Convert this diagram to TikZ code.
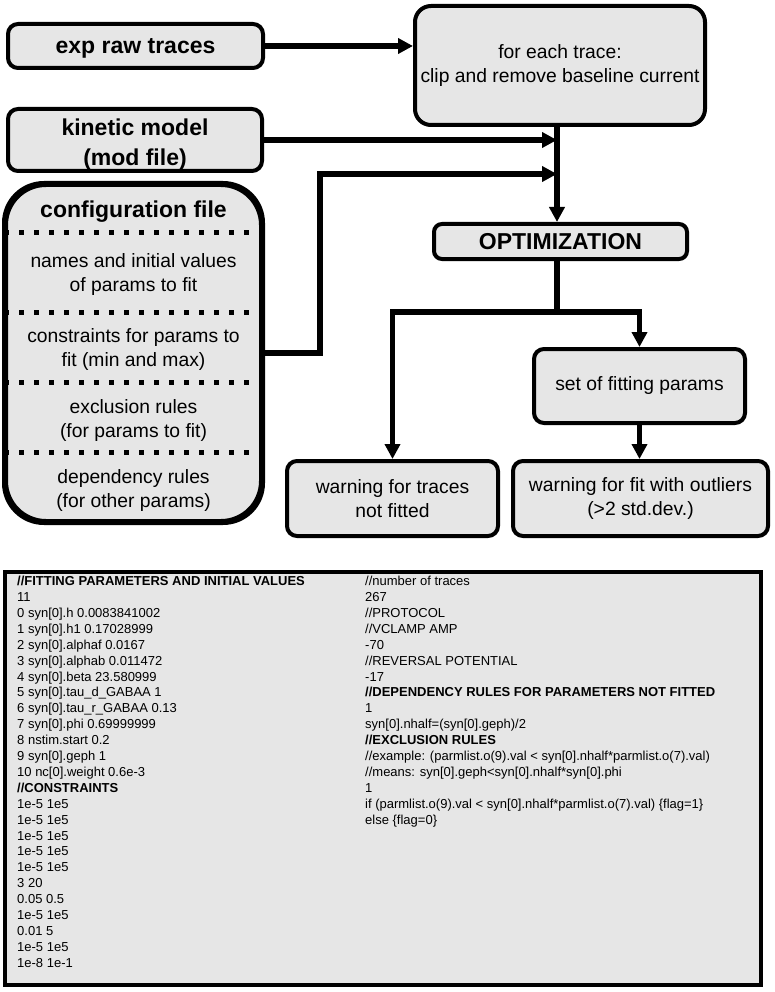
\documentclass[tikz,border=0pt]{standalone}
\usepackage{fontspec}
\setmainfont{Liberation Sans}
\usetikzlibrary{arrows.meta,calc}
\definecolor{boxgray}{RGB}{230,230,230}
\begin{document}
\begin{tikzpicture}[x=1pt,y=-1pt,
  box/.style={draw=black, line width=4pt, fill=boxgray, rounded corners=10pt, align=center, inner sep=0pt},
  big/.style={font=\fontsize{23}{30}\selectfont\bfseries, align=center},
  reg/.style={font=\fontsize{19.3}{24}\selectfont, align=center},
  conn/.style={line width=5.5pt, line join=miter, -{Triangle[length=15pt,width=15pt]}},
  plain/.style={line width=5.5pt, line join=miter},
  dots/.style={line width=5pt, dash pattern=on 5pt off 10pt},
  code/.style={font=\fontsize{13}{15.9}\selectfont, align=left, anchor=north west, inner sep=0pt}
]
\useasboundingbox (0,0) rectangle (774,992);

% top boxes
\node[box, minimum width=255pt, minimum height=44pt] (raw) at (135.5,46) {};
\node[big] (rawt) at (135.5,48) {exp raw traces};
\node[box, reg, rounded corners=16pt, minimum width=290pt, minimum height=119pt] (clip) at (560,65.5) {for each trace:\\clip and remove baseline current};
\node[box, minimum width=254pt, minimum height=62pt] (kin) at (135,140) {};
\node[big] (kint) at (135,145) {kinetic model\\(mod file)};

% configuration file
\node[box, rounded corners=40pt, minimum width=255pt, minimum height=336pt] (cfg) at (133.5,353) {};
\node[big] (cfgt) at (133.5,212) {configuration file};
\node[reg] (cfg1) at (133.5,275) {names and initial values\\of params to fit};
\node[reg] (cfg2) at (133.5,349.5) {constraints for params to\\fit (min and max)};
\node[reg] (cfg3) at (133.5,421) {exclusion rules\\(for params to fit)};
\node[reg] (cfg4) at (133.5,490.5) {dependency rules\\(for other params)};
\foreach \yy in {233,312,382,452}
  \draw[dots] (cfg.west |- 0,\yy) -- (cfg.east |- 0,\yy);
\draw[line width=4pt, rounded corners=40pt] (cfg.north west) rectangle (cfg.south east);

% optimization and results
\node[box, big, rounded corners=8pt, minimum width=253pt, minimum height=35pt] (opt) at (560.5,241.5) {OPTIMIZATION};
\node[box, reg, minimum width=211pt, minimum height=74pt] (set) at (639.5,386) {set of fitting params};
\node[box, reg, minimum width=211pt, minimum height=75pt] (w1) at (392.5,498.5) {warning for traces\\not fitted};
\node[box, reg, minimum width=255pt, minimum height=75pt] (w2) at (640.5,498.5) {warning for fit with outliers\\(>2 std.dev.)};

% connectors
\coordinate (spine) at (557,0);
\coordinate (cfgbend) at (320,174);
\coordinate (split) at (557,312);
\draw[conn] (raw.east) -- (raw.east -| clip.west);
\draw[conn] (kin.east) -- (kin.east -| spine);
\draw[conn] (cfg.east) -| (cfgbend) -- (cfgbend -| spine);
\draw[conn] (clip.south -| spine) -- (opt.north -| spine);
\draw[plain] (opt.south -| spine) -- (split);
\draw[conn] (split) -| (w1.north);
\draw[conn] (split) -| (set.north);
\draw[conn] (set.south) -- (set.south |- w2.north);

% code box
\node[draw=black, line width=4pt, fill=boxgray, minimum width=756pt, minimum height=413pt, inner sep=0pt] (codebox) at (383,778.5) {};
\node[code] (codeL) at (17,576) {\textbf{//FITTING PARAMETERS AND INITIAL VALUES}\\
11\\
0 syn[0].h 0.0083841002\\
1 syn[0].h1 0.17028999\\
2 syn[0].alphaf 0.0167\\
3 syn[0].alphab 0.011472\\
4 syn[0].beta 23.580999\\
5 syn[0].tau\_d\_GABAA 1\\
6 syn[0].tau\_r\_GABAA 0.13\\
7 syn[0].phi 0.69999999\\
8 nstim.start 0.2\\
9 syn[0].geph 1\\
10 nc[0].weight 0.6e-3\\
\textbf{//CONSTRAINTS}\\
1e-5 1e5\\
1e-5 1e5\\
1e-5 1e5\\
1e-5 1e5\\
1e-5 1e5\\
3 20\\
0.05 0.5\\
1e-5 1e5\\
0.01 5\\
1e-5 1e5\\
1e-8 1e-1};
\node[code] (codeR) at (365,576) {//number of traces\\
267\\
//PROTOCOL\\
//VCLAMP AMP\\
-70\\
//REVERSAL POTENTIAL\\
-17\\
\textbf{//DEPENDENCY RULES FOR PARAMETERS NOT FITTED}\\
1\\
syn[0].nhalf=(syn[0].geph)/2\\
\textbf{//EXCLUSION RULES}\\
//example: (parmlist.o(9).val < syn[0].nhalf*parmlist.o(7).val)\\
//means: syn[0].geph<syn[0].nhalf*syn[0].phi\\
1\\
if (parmlist.o(9).val < syn[0].nhalf*parmlist.o(7).val) \{flag=1\}\\
else \{flag=0\}};
\end{tikzpicture}
\end{document}
